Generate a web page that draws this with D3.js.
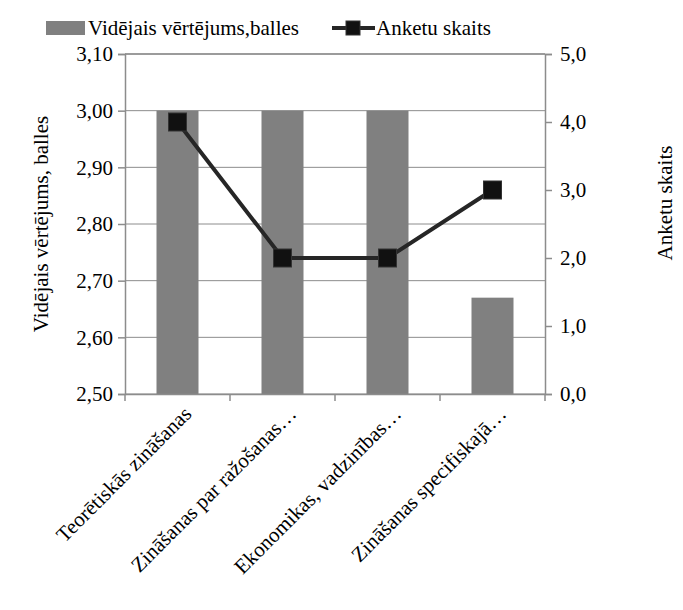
<!DOCTYPE html>
<html><head><meta charset="utf-8">
<script src="https://cdn.jsdelivr.net/npm/d3@7"></script>
<style>
svg#c, svg#c text { font-family: "Times New Roman", "Liberation Serif", Tinos, serif !important; }
</style>
</head><body style="margin:0;background:#fff">
<svg id="c" width="683" height="610" style="display:block"></svg>
<script>
const categories = ["Teorētiskās zināšanas","Zināšanas par ražošanas…","Ekonomikas, vadzinības…","Zināšanas specifiskajā…"];
const avgScore = [3.00, 3.00, 3.00, 2.67];
const surveyCount = [4, 2, 2, 3];
const leftTicks = [2.5,2.6,2.7,2.8,2.9,3.0,3.1];
const rightTicks = [0,1,2,3,4,5];
const seriesNames = ["Vidējais vērtējums,balles","Anketu skaits"];
const leftTitle = "Vidējais vērtējums, balles";
const rightTitle = "Anketu skaits";

const FONT = '"Times New Roman", "Liberation Serif", Tinos, serif';
const svg = d3.select("#c");
const m = {l:125, r:545, t:54, b:394};
const fs = 21;
const x = d3.scaleBand().domain(categories).range([m.l, m.r]).paddingInner(0.6).paddingOuter(0.3);
const xb = d3.scaleBand().domain(categories).range([m.l, m.r]);
const yL = d3.scaleLinear().domain([2.5,3.1]).range([m.b, m.t]);
const yR = d3.scaleLinear().domain([0,5]).range([m.b, m.t]);
const grey = "#8c8c8c";
const fmt2 = d => d.toFixed(2).replace(".",",");
const fmt1 = d => d.toFixed(1).replace(".",",");

svg.append("g").selectAll("line").data(leftTicks).join("line")
  .attr("x1", m.l).attr("x2", m.r).attr("y1", d=>yL(d)).attr("y2", d=>yL(d))
  .attr("stroke", grey).attr("stroke-width", 1);

svg.append("g").selectAll("rect").data(categories).join("rect")
  .attr("x", d=>x(d)).attr("width", x.bandwidth())
  .attr("y", (d,i)=>yL(avgScore[i])).attr("height", (d,i)=>m.b - yL(avgScore[i]))
  .attr("fill", "#808080");

const gl = svg.append("g").attr("transform",`translate(${m.l},0)`)
  .call(d3.axisLeft(yL).tickValues(leftTicks).tickFormat(fmt2).tickSize(7).tickPadding(5));
const gr = svg.append("g").attr("transform",`translate(${m.r},0)`)
  .call(d3.axisRight(yR).tickValues(rightTicks).tickFormat(fmt1).tickSize(7).tickPadding(8));
const gb = svg.append("g").attr("transform",`translate(0,${m.b})`)
  .call(d3.axisBottom(xb).tickValues([]).tickSize(0));
[gl,gr,gb].forEach(g=>{
  g.attr("font-family", null).attr("font-size", null);
  g.select(".domain").attr("stroke", grey).attr("stroke-width",1.5);
  g.selectAll(".tick line").attr("stroke", grey).attr("stroke-width",1.5);
  g.selectAll("text").attr("fill","#000");
});
const bounds = categories.map(c=>xb(c)).concat([m.r]);
svg.append("g").selectAll("line").data(bounds).join("line")
  .attr("x1", d=>d).attr("x2", d=>d).attr("y1", m.b).attr("y2", m.b+7)
  .attr("stroke", grey).attr("stroke-width",1.5);
svg.append("line").attr("x1",m.l).attr("x2",m.r).attr("y1",m.t).attr("y2",m.t)
  .attr("stroke",grey).attr("stroke-width",1.5);

svg.append("g").selectAll("text").data(categories).join("text")
  .attr("transform", d=>`translate(${xb(d)+xb.bandwidth()/2+10},${m.b+16}) rotate(-45)`)
  .attr("text-anchor","end").attr("dy","0.35em").text(d=>d);

const cx = d => xb(d)+xb.bandwidth()/2;
svg.append("path").datum(categories)
  .attr("d", d3.line().x(d=>cx(d)).y((d,i)=>yR(surveyCount[i])))
  .attr("fill","none").attr("stroke","#262626").attr("stroke-width",4);
svg.append("g").selectAll("rect").data(categories).join("rect")
  .attr("x", d=>cx(d)-9).attr("y",(d,i)=>yR(surveyCount[i])-9)
  .attr("width",18).attr("height",18).attr("fill","#111").attr("stroke","#333").attr("stroke-width",1);

svg.append("text").attr("transform",`translate(48,${(m.t+m.b)/2}) rotate(-90)`)
  .attr("text-anchor","middle").text(leftTitle);
svg.append("text").attr("transform",`translate(672,203) rotate(-90)`)
  .attr("text-anchor","middle").text(rightTitle);

const lg = svg.append("g");
lg.append("rect").attr("x",46).attr("y",21).attr("width",39).attr("height",14).attr("fill","#808080");
lg.append("text").attr("x",88).attr("y",35).text(seriesNames[0]);
lg.append("line").attr("x1",332).attr("x2",375).attr("y1",28).attr("y2",28).attr("stroke","#262626").attr("stroke-width",4);
lg.append("rect").attr("x",346).attr("y",21).attr("width",14).attr("height",14).attr("fill","#111").attr("stroke","#333");
lg.append("text").attr("x",376).attr("y",35).text(seriesNames[1]);

svg.selectAll("text").attr("font-family", FONT).attr("font-size", fs)
  .style("font-family", FONT, "important").style("font-size", fs+"px");
</script>
</body></html>
